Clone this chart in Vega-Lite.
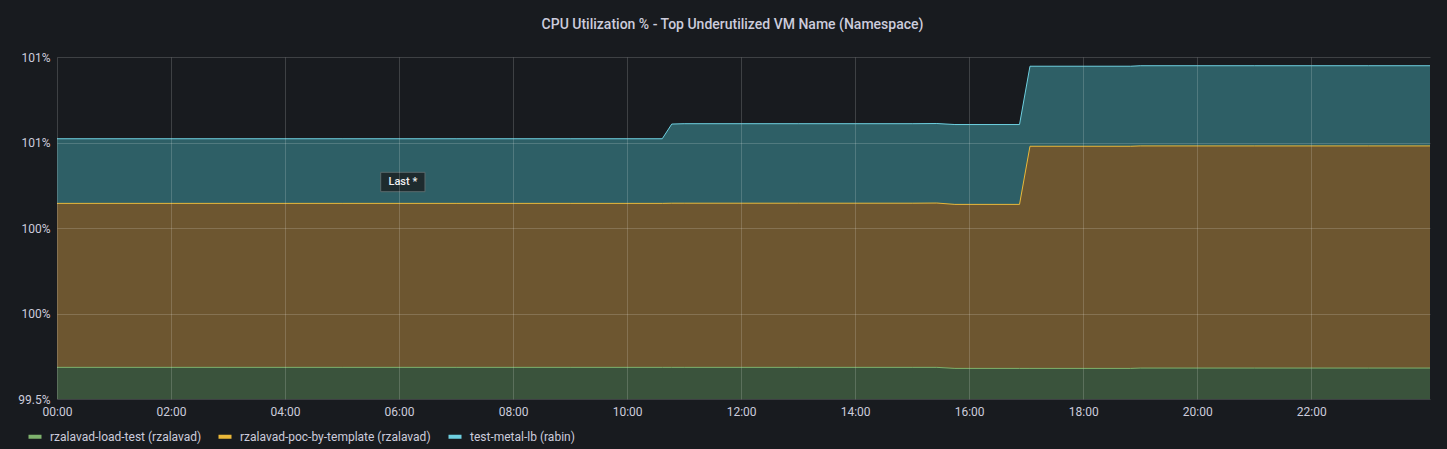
{
  "$schema": "https://vega.github.io/schema/vega-lite/v6.json",
  "width": 1373,
  "height": 342,
  "autosize": {"type": "none"},
  "padding": {"left": 57, "top": 57, "right": 17, "bottom": 50},
  "background": "#181b1f",
  "config": {"view": {"stroke": null}, "font": "Roboto"},
  "title": {"text": "CPU Utilization % - Top Underutilized VM Name (Namespace)", "anchor": "middle", "dx": -11, "offset": 19, "fontSize": 14, "fontWeight": 500, "color": "#ccccdc", "font": "Roboto"},
  "data": {"values": [
    {"t": "2024-01-01T00:00:00Z", "series": "rzalavad-load-test (rzalavad)", "v": 99.685},
    {"t": "2024-01-01T01:00:00Z", "series": "rzalavad-load-test (rzalavad)", "v": 99.685},
    {"t": "2024-01-01T02:00:00Z", "series": "rzalavad-load-test (rzalavad)", "v": 99.685},
    {"t": "2024-01-01T03:00:00Z", "series": "rzalavad-load-test (rzalavad)", "v": 99.685},
    {"t": "2024-01-01T04:00:00Z", "series": "rzalavad-load-test (rzalavad)", "v": 99.685},
    {"t": "2024-01-01T05:00:00Z", "series": "rzalavad-load-test (rzalavad)", "v": 99.685},
    {"t": "2024-01-01T06:00:00Z", "series": "rzalavad-load-test (rzalavad)", "v": 99.685},
    {"t": "2024-01-01T07:00:00Z", "series": "rzalavad-load-test (rzalavad)", "v": 99.685},
    {"t": "2024-01-01T08:00:00Z", "series": "rzalavad-load-test (rzalavad)", "v": 99.685},
    {"t": "2024-01-01T09:00:00Z", "series": "rzalavad-load-test (rzalavad)", "v": 99.685},
    {"t": "2024-01-01T10:00:00Z", "series": "rzalavad-load-test (rzalavad)", "v": 99.685},
    {"t": "2024-01-01T10:37:00Z", "series": "rzalavad-load-test (rzalavad)", "v": 99.685},
    {"t": "2024-01-01T10:47:00Z", "series": "rzalavad-load-test (rzalavad)", "v": 99.685},
    {"t": "2024-01-01T11:00:00Z", "series": "rzalavad-load-test (rzalavad)", "v": 99.685},
    {"t": "2024-01-01T12:00:00Z", "series": "rzalavad-load-test (rzalavad)", "v": 99.685},
    {"t": "2024-01-01T13:00:00Z", "series": "rzalavad-load-test (rzalavad)", "v": 99.685},
    {"t": "2024-01-01T14:00:00Z", "series": "rzalavad-load-test (rzalavad)", "v": 99.685},
    {"t": "2024-01-01T15:00:00Z", "series": "rzalavad-load-test (rzalavad)", "v": 99.685},
    {"t": "2024-01-01T15:26:00Z", "series": "rzalavad-load-test (rzalavad)", "v": 99.685},
    {"t": "2024-01-01T15:45:00Z", "series": "rzalavad-load-test (rzalavad)", "v": 99.679},
    {"t": "2024-01-01T16:00:00Z", "series": "rzalavad-load-test (rzalavad)", "v": 99.679},
    {"t": "2024-01-01T16:53:00Z", "series": "rzalavad-load-test (rzalavad)", "v": 99.679},
    {"t": "2024-01-01T17:04:00Z", "series": "rzalavad-load-test (rzalavad)", "v": 99.679},
    {"t": "2024-01-01T18:00:00Z", "series": "rzalavad-load-test (rzalavad)", "v": 99.679},
    {"t": "2024-01-01T18:50:00Z", "series": "rzalavad-load-test (rzalavad)", "v": 99.679},
    {"t": "2024-01-01T19:00:00Z", "series": "rzalavad-load-test (rzalavad)", "v": 99.681},
    {"t": "2024-01-01T20:00:00Z", "series": "rzalavad-load-test (rzalavad)", "v": 99.681},
    {"t": "2024-01-01T21:00:00Z", "series": "rzalavad-load-test (rzalavad)", "v": 99.681},
    {"t": "2024-01-01T22:00:00Z", "series": "rzalavad-load-test (rzalavad)", "v": 99.681},
    {"t": "2024-01-01T23:00:00Z", "series": "rzalavad-load-test (rzalavad)", "v": 99.681},
    {"t": "2024-01-02T00:05:00Z", "series": "rzalavad-load-test (rzalavad)", "v": 99.681},
    {"t": "2024-01-01T00:00:00Z", "series": "rzalavad-poc-by-template (rzalavad)", "v": 100.644},
    {"t": "2024-01-01T01:00:00Z", "series": "rzalavad-poc-by-template (rzalavad)", "v": 100.644},
    {"t": "2024-01-01T02:00:00Z", "series": "rzalavad-poc-by-template (rzalavad)", "v": 100.644},
    {"t": "2024-01-01T03:00:00Z", "series": "rzalavad-poc-by-template (rzalavad)", "v": 100.644},
    {"t": "2024-01-01T04:00:00Z", "series": "rzalavad-poc-by-template (rzalavad)", "v": 100.644},
    {"t": "2024-01-01T05:00:00Z", "series": "rzalavad-poc-by-template (rzalavad)", "v": 100.644},
    {"t": "2024-01-01T06:00:00Z", "series": "rzalavad-poc-by-template (rzalavad)", "v": 100.644},
    {"t": "2024-01-01T07:00:00Z", "series": "rzalavad-poc-by-template (rzalavad)", "v": 100.644},
    {"t": "2024-01-01T08:00:00Z", "series": "rzalavad-poc-by-template (rzalavad)", "v": 100.644},
    {"t": "2024-01-01T09:00:00Z", "series": "rzalavad-poc-by-template (rzalavad)", "v": 100.644},
    {"t": "2024-01-01T10:00:00Z", "series": "rzalavad-poc-by-template (rzalavad)", "v": 100.644},
    {"t": "2024-01-01T10:37:00Z", "series": "rzalavad-poc-by-template (rzalavad)", "v": 100.644},
    {"t": "2024-01-01T10:47:00Z", "series": "rzalavad-poc-by-template (rzalavad)", "v": 100.645},
    {"t": "2024-01-01T11:00:00Z", "series": "rzalavad-poc-by-template (rzalavad)", "v": 100.645},
    {"t": "2024-01-01T12:00:00Z", "series": "rzalavad-poc-by-template (rzalavad)", "v": 100.645},
    {"t": "2024-01-01T13:00:00Z", "series": "rzalavad-poc-by-template (rzalavad)", "v": 100.645},
    {"t": "2024-01-01T14:00:00Z", "series": "rzalavad-poc-by-template (rzalavad)", "v": 100.645},
    {"t": "2024-01-01T15:00:00Z", "series": "rzalavad-poc-by-template (rzalavad)", "v": 100.645},
    {"t": "2024-01-01T15:26:00Z", "series": "rzalavad-poc-by-template (rzalavad)", "v": 100.646},
    {"t": "2024-01-01T15:45:00Z", "series": "rzalavad-poc-by-template (rzalavad)", "v": 100.638},
    {"t": "2024-01-01T16:00:00Z", "series": "rzalavad-poc-by-template (rzalavad)", "v": 100.638},
    {"t": "2024-01-01T16:53:00Z", "series": "rzalavad-poc-by-template (rzalavad)", "v": 100.638},
    {"t": "2024-01-01T17:04:00Z", "series": "rzalavad-poc-by-template (rzalavad)", "v": 100.978},
    {"t": "2024-01-01T18:00:00Z", "series": "rzalavad-poc-by-template (rzalavad)", "v": 100.978},
    {"t": "2024-01-01T18:50:00Z", "series": "rzalavad-poc-by-template (rzalavad)", "v": 100.978},
    {"t": "2024-01-01T19:00:00Z", "series": "rzalavad-poc-by-template (rzalavad)", "v": 100.98},
    {"t": "2024-01-01T20:00:00Z", "series": "rzalavad-poc-by-template (rzalavad)", "v": 100.98},
    {"t": "2024-01-01T21:00:00Z", "series": "rzalavad-poc-by-template (rzalavad)", "v": 100.98},
    {"t": "2024-01-01T22:00:00Z", "series": "rzalavad-poc-by-template (rzalavad)", "v": 100.98},
    {"t": "2024-01-01T23:00:00Z", "series": "rzalavad-poc-by-template (rzalavad)", "v": 100.98},
    {"t": "2024-01-02T00:05:00Z", "series": "rzalavad-poc-by-template (rzalavad)", "v": 100.98},
    {"t": "2024-01-01T00:00:00Z", "series": "test-metal-lb (rabin)", "v": 101.022},
    {"t": "2024-01-01T01:00:00Z", "series": "test-metal-lb (rabin)", "v": 101.022},
    {"t": "2024-01-01T02:00:00Z", "series": "test-metal-lb (rabin)", "v": 101.022},
    {"t": "2024-01-01T03:00:00Z", "series": "test-metal-lb (rabin)", "v": 101.022},
    {"t": "2024-01-01T04:00:00Z", "series": "test-metal-lb (rabin)", "v": 101.022},
    {"t": "2024-01-01T05:00:00Z", "series": "test-metal-lb (rabin)", "v": 101.022},
    {"t": "2024-01-01T06:00:00Z", "series": "test-metal-lb (rabin)", "v": 101.022},
    {"t": "2024-01-01T07:00:00Z", "series": "test-metal-lb (rabin)", "v": 101.022},
    {"t": "2024-01-01T08:00:00Z", "series": "test-metal-lb (rabin)", "v": 101.022},
    {"t": "2024-01-01T09:00:00Z", "series": "test-metal-lb (rabin)", "v": 101.022},
    {"t": "2024-01-01T10:00:00Z", "series": "test-metal-lb (rabin)", "v": 101.022},
    {"t": "2024-01-01T10:37:00Z", "series": "test-metal-lb (rabin)", "v": 101.022},
    {"t": "2024-01-01T10:47:00Z", "series": "test-metal-lb (rabin)", "v": 101.108},
    {"t": "2024-01-01T11:00:00Z", "series": "test-metal-lb (rabin)", "v": 101.11},
    {"t": "2024-01-01T12:00:00Z", "series": "test-metal-lb (rabin)", "v": 101.11},
    {"t": "2024-01-01T13:00:00Z", "series": "test-metal-lb (rabin)", "v": 101.11},
    {"t": "2024-01-01T14:00:00Z", "series": "test-metal-lb (rabin)", "v": 101.11},
    {"t": "2024-01-01T15:00:00Z", "series": "test-metal-lb (rabin)", "v": 101.11},
    {"t": "2024-01-01T15:26:00Z", "series": "test-metal-lb (rabin)", "v": 101.111},
    {"t": "2024-01-01T15:45:00Z", "series": "test-metal-lb (rabin)", "v": 101.105},
    {"t": "2024-01-01T16:00:00Z", "series": "test-metal-lb (rabin)", "v": 101.105},
    {"t": "2024-01-01T16:53:00Z", "series": "test-metal-lb (rabin)", "v": 101.105},
    {"t": "2024-01-01T17:04:00Z", "series": "test-metal-lb (rabin)", "v": 101.446},
    {"t": "2024-01-01T18:00:00Z", "series": "test-metal-lb (rabin)", "v": 101.446},
    {"t": "2024-01-01T18:50:00Z", "series": "test-metal-lb (rabin)", "v": 101.446},
    {"t": "2024-01-01T19:00:00Z", "series": "test-metal-lb (rabin)", "v": 101.449},
    {"t": "2024-01-01T20:00:00Z", "series": "test-metal-lb (rabin)", "v": 101.449},
    {"t": "2024-01-01T21:00:00Z", "series": "test-metal-lb (rabin)", "v": 101.449},
    {"t": "2024-01-01T22:00:00Z", "series": "test-metal-lb (rabin)", "v": 101.449},
    {"t": "2024-01-01T23:00:00Z", "series": "test-metal-lb (rabin)", "v": 101.449},
    {"t": "2024-01-02T00:05:00Z", "series": "test-metal-lb (rabin)", "v": 101.449}
  ]},
  "encoding": {
    "x": {
      "field": "t", "type": "temporal",
      "scale": {"type": "utc", "domain": [1704067200000, 1704153900000]},
      "axis": {
        "values": [1704067200000, 1704074400000, 1704081600000, 1704088800000, 1704096000000, 1704103200000, 1704110400000, 1704117600000, 1704124800000, 1704132000000, 1704139200000, 1704146400000],
        "format": "%H:%M", "labelFlush": false, "labelOverlap": false,
        "domain": false, "ticks": false, "tickSize": 0, "labelPadding": 7,
        "labelColor": "#ccccdc", "labelFontSize": 12, "labelFont": "Roboto",
        "grid": true, "gridColor": "#ffffff", "gridOpacity": 0.17,
        "title": null, "zindex": 1
      }
    },
    "y": {
      "field": "v", "type": "quantitative",
      "scale": {"domain": [99.5, 101.5], "nice": false, "zero": false},
      "axis": {
        "values": [99.5, 100, 100.5, 101, 101.5],
        "labelExpr": "datum.value == 99.5 ? '99.5%' : (datum.value < 100.75 ? '100%' : '101%')",
        "domain": false, "ticks": false, "tickSize": 0, "labelPadding": 7,
        "labelColor": "#ccccdc", "labelFontSize": 12, "labelFont": "Roboto",
        "grid": true, "gridColor": "#ffffff", "gridOpacity": 0.17,
        "title": null, "zindex": 1
      }
    }
  },
  "layer": [
    {
      "transform": [{"filter": "datum.series === 'test-metal-lb (rabin)'"}],
      "mark": {"type": "area", "fill": "#2e5f66", "clip": true},
      "encoding": {"y2": {"datum": 99.5}}
    },
    {
      "transform": [{"filter": "datum.series === 'rzalavad-poc-by-template (rzalavad)'"}],
      "mark": {"type": "area", "fill": "#6d5630", "clip": true},
      "encoding": {"y2": {"datum": 99.5}}
    },
    {
      "transform": [{"filter": "datum.series === 'rzalavad-load-test (rzalavad)'"}],
      "mark": {"type": "area", "fill": "#3a533c", "clip": true},
      "encoding": {"y2": {"datum": 99.5}}
    },
    {
      "mark": {"type": "line", "strokeWidth": 1, "clip": true},
      "encoding": {
        "stroke": {
          "field": "series", "type": "nominal",
          "scale": {"domain": ["rzalavad-load-test (rzalavad)", "rzalavad-poc-by-template (rzalavad)", "test-metal-lb (rabin)"], "range": ["#7EB26D", "#EAB839", "#6ED0E0"]},
          "legend": {
            "orient": "none", "legendX": -30.5, "legendY": 371, "direction": "horizontal",
            "title": null, "symbolType": "stroke", "symbolStrokeWidth": 4, "symbolSize": 169,
            "labelColor": "#ccccdc", "labelFontSize": 12, "labelFont": "Roboto", "labelLimit": 0,
            "labelOffset": 6.5, "columnPadding": 9, "padding": 0
          }
        }
      }
    },
    {
      "data": {"values": [{"t": "2024-01-01T06:04:00Z", "v": 100.769, "label": "Last *"}]},
      "mark": {"type": "point", "shape": "M-1,-0.438H1V0.438H-1Z", "size": 1962, "filled": true, "fill": "#1e2b2e", "stroke": "#5a6a6d", "strokeWidth": 1, "opacity": 1}
    },
    {
      "data": {"values": [{"t": "2024-01-01T06:04:00Z", "v": 100.769, "label": "Last *"}]},
      "mark": {"type": "text", "fontSize": 11, "fontWeight": 500, "color": "#f0f0f0", "font": "Roboto"},
      "encoding": {"text": {"field": "label"}}
    }
  ]
}
